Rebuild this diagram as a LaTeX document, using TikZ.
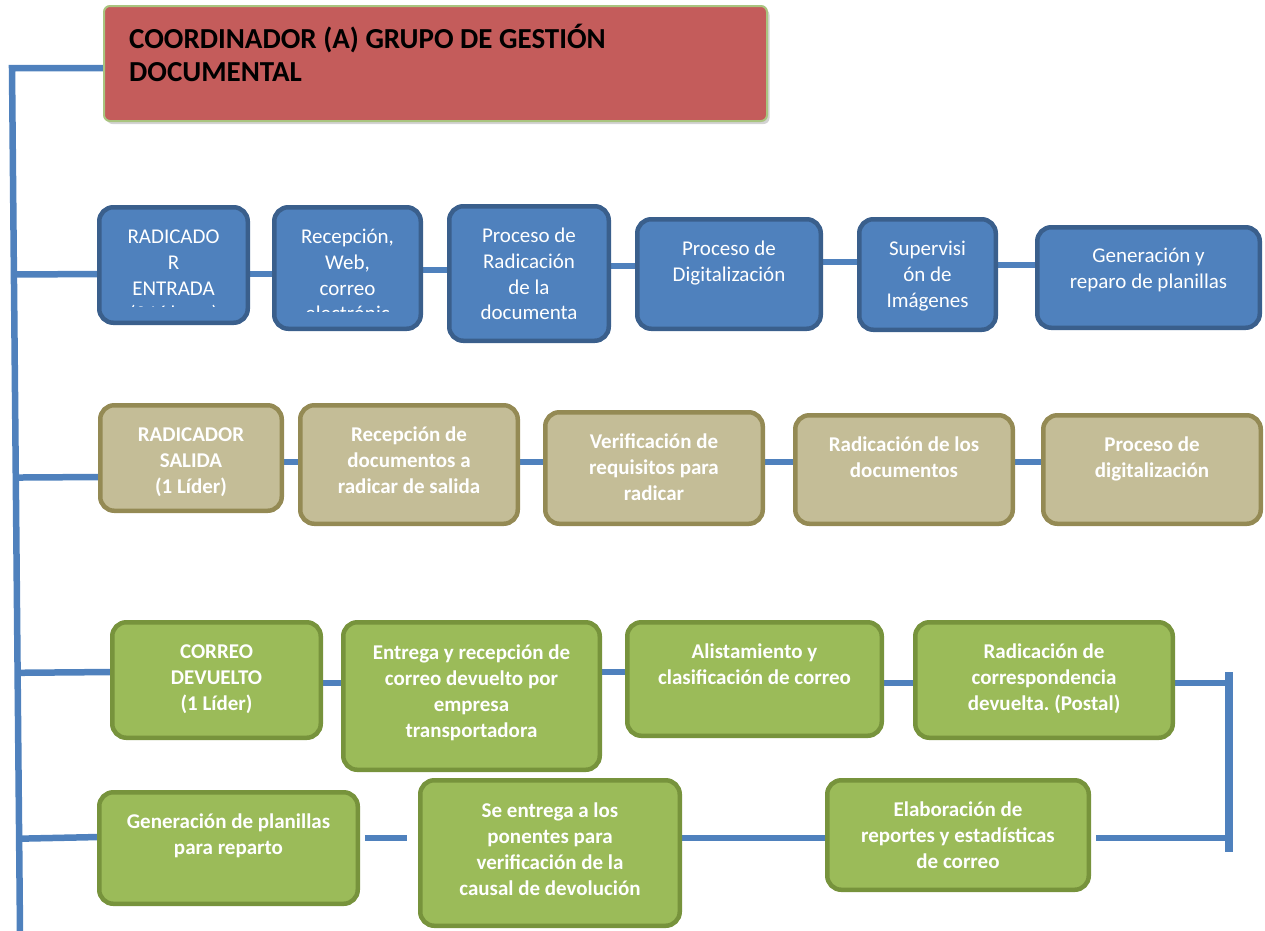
\documentclass[tikz,border=0pt]{standalone}
\usepackage{fontspec}
\setmainfont{Carlito}
\frenchspacing
\usetikzlibrary{calc,shadows}
\definecolor{bfill}{HTML}{4F81BD}
\definecolor{bline}{HTML}{3A5F8C}
\definecolor{tfill}{HTML}{C4BD97}
\definecolor{tline}{HTML}{948A54}
\definecolor{gfill}{HTML}{9BBB59}
\definecolor{gline}{HTML}{77933C}
\definecolor{rfill}{HTML}{C45C5B}
\definecolor{rline}{HTML}{A9C47F}
\definecolor{connc}{HTML}{4F81BD}
\pgfdeclarelayer{bg}
\pgfsetlayers{bg,main}
\tikzset{
  box/.style={rectangle, rounded corners=14pt, line width=4.5pt, inner sep=0pt, outer sep=0pt},
  bluebox/.style={box, fill=bfill, draw=bline},
  tanbox/.style={box, fill=tfill, draw=tline},
  greenbox/.style={box, fill=gfill, draw=gline},
  lbl/.style={anchor=north, inner sep=0pt, align=center, text=white},
  bluetxt/.style={lbl, font=\fontsize{21}{25.8}\selectfont},
  boldtxt/.style={lbl, font=\bfseries\fontsize{21}{26}\selectfont},
  conn/.style={draw=connc, line width=6.5pt},
}
\newcommand\mkbox[6]{%
  \node[#2, minimum width={(#5-#3-4.5)*1pt}, minimum height={(#6-#4-4.5)*1pt}]
    (#1) at ({(#3+#5)/2},{(#4+#6)/2}) {};}
\begin{document}
\begin{tikzpicture}[x=1pt,y=-1pt]
\useasboundingbox (0,0) rectangle (1265,930);
% title
\node[rectangle, rounded corners=6pt, fill=rfill, draw=rline, line width=2pt,
  minimum width=663pt, minimum height=115pt, inner sep=0pt,
  drop shadow={shadow xshift=2.5pt, shadow yshift=-3pt, opacity=0.35}]
  (title) at (435.5,63.5) {};
\node[anchor=north west, inner sep=0pt, align=left, text=black,
  font=\bfseries\fontsize{29}{33}\selectfont]
  (titlet) at ($(title.north west)+(26,19)$) {\strut COORDINADOR (A) GRUPO DE GESTIÓN\\DOCUMENTAL};
% blue row
\mkbox{b1}{bluebox}{97}{205}{250}{325}
\mkbox{b2}{bluebox}{272}{205}{423}{331}
\mkbox{b3}{bluebox}{447}{204}{611}{343}
\mkbox{b4}{bluebox}{635}{217}{823}{331}
\mkbox{b5}{bluebox}{857}{217}{998}{332}
\mkbox{b6}{bluebox}{1035}{225}{1262}{330}
\begin{scope}
\clip (97,205) rectangle (250,306.5);
\node[bluetxt] (b1t) at ($(b1.north)+(0,18)$) {\strut RADICADO\\R\\ENTRADA\\(3 Líderes)};
\end{scope}
\begin{scope}
\clip (272,205) rectangle (423,311);
\node[bluetxt] (b2t) at ($(b2.north)+(0,18)$) {\strut Recepción,\\Web,\\correo\\electrónic};
\end{scope}
\node[bluetxt] (b3t) at ($(b3.north)+(0,18)$) {\strut Proceso de\\Radicación\\de la\\documenta};
\node[bluetxt] (b4t) at ($(b4.north)+(0,18)$) {\strut Proceso de\\Digitalización};
\node[bluetxt] (b5t) at ($(b5.north)+(0,18)$) {\strut Supervisi\\ón de\\Imágenes};
\node[bluetxt] (b6t) at ($(b6.north)+(0,17)$) {\strut Generación y\\reparo de planillas};
% tan row
\mkbox{t1}{tanbox}{98}{403}{284}{513}
\mkbox{t2}{tanbox}{298}{403}{520}{526}
\mkbox{t3}{tanbox}{543}{410}{765}{526}
\mkbox{t4}{tanbox}{793}{413}{1015}{526}
\mkbox{t5}{tanbox}{1041}{413}{1263}{526}
\node[boldtxt] (t1t) at ($(t1.north)+(0,18)$) {\strut RADICADOR\\SALIDA\\(1 Líder)};
\node[boldtxt] (t2t) at ($(t2.north)+(0,18)$) {\strut Recepción de\\documentos a\\radicar de salida};
\node[boldtxt] (t3t) at ($(t3.north)+(0,18)$) {\strut Verificación de\\requisitos para\\radicar};
\node[boldtxt] (t4t) at ($(t4.north)+(0,18)$) {\strut Radicación de los\\documentos};
\node[boldtxt] (t5t) at ($(t5.north)+(0,18)$) {\strut Proceso de\\digitalización};
% green rows
\mkbox{g1}{greenbox}{110}{620}{323}{740}
\mkbox{g2}{greenbox}{341}{620}{602}{772}
\mkbox{g3}{greenbox}{625}{620}{884}{738}
\mkbox{g4}{greenbox}{913}{620}{1175}{740}
\mkbox{g5}{greenbox}{97}{790}{360}{906}
\mkbox{g6}{greenbox}{418}{778}{682}{928}
\mkbox{g7}{greenbox}{825}{778}{1091}{892}
\node[boldtxt] (g1t) at ($(g1.north)+(0,18)$) {\strut CORREO\\DEVUELTO\\(1 Líder)};
\node[boldtxt] (g2t) at ($(g2.north)+(0,19)$) {\strut Entrega y recepción de\\correo devuelto por\\empresa\\transportadora};
\node[boldtxt] (g3t) at ($(g3.north)+(0,18)$) {\strut Alistamiento y\\clasificación de correo};
\node[boldtxt] (g4t) at ($(g4.north)+(0,18)$) {\strut Radicación de\\correspondencia\\devuelta. (Postal)};
\node[boldtxt] (g5t) at ($(g5.north)+(0,18)$) {\strut Generación de planillas\\para reparto};
\node[boldtxt] (g6t) at ($(g6.north)+(0,19)$) {\strut Se entrega a los\\ponentes para\\verificación de la\\causal de devolución};
\node[boldtxt] (g7t) at ($(g7.north)+(0,18)$) {\strut Elaboración de\\reportes y estadísticas\\de correo};
% connectors
\begin{pgfonlayer}{bg}
\coordinate (tA) at (12,68);
\coordinate (tB) at (20,932);
\coordinate (brT) at (1229,672);
\coordinate (brB) at (1229,852);
\draw[conn, line join=miter] (title.west |- 0,68) -- (tA) -- (tB);
\draw[conn] ($(tA)!0.239!(tB)$) -- (b1.west |- 0,274);
\draw[conn] ($(tA)!0.474!(tB)$) -- (t1.west |- 0,477);
\draw[conn] ($(tA)!0.700!(tB)$) -- (g1.west |- 0,672);
\draw[conn] ($(tA)!0.892!(tB)$) -- (g5.west |- 0,837);
\draw[conn] (b1.east |- 0,274) -- (b2.west |- 0,274);
\draw[conn] (b2.east |- 0,270) -- (b3.west |- 0,270);
\draw[conn] (b3.east |- 0,266) -- (b4.west |- 0,266);
\draw[conn] (b4.east |- 0,262) -- (b5.west |- 0,262);
\draw[conn] (b5.east |- 0,265) -- (b6.west |- 0,265);
\draw[conn] (t1.east |- 0,462) -- (t2.west |- 0,462);
\draw[conn] (t2.east |- 0,462) -- (t3.west |- 0,462);
\draw[conn] (t3.east |- 0,462) -- (t4.west |- 0,462);
\draw[conn] (t4.east |- 0,462) -- (t5.west |- 0,462);
\draw[conn] (g1.east |- 0,683) -- (g2.west |- 0,683);
\draw[conn] (g2.east |- 0,672) -- (g3.west |- 0,672);
\draw[conn] (g3.east |- 0,683) -- (g4.west |- 0,683);
\draw[conn] (g4.east |- 0,683) -- (brT |- 0,683);
\draw[conn, line width=8pt] (brT) -- (brB);
\draw[conn] (g7.east |- 0,838) ++(7,0) -- (brT |- 0,838);
\draw[conn] (g6.east |- 0,838) -- (g7.west |- 0,838);
\draw[conn, shorten <=7pt, shorten >=13pt] (g5.east |- 0,838) -- (g6.west |- 0,838);
\end{pgfonlayer}
\end{tikzpicture}
\end{document}
